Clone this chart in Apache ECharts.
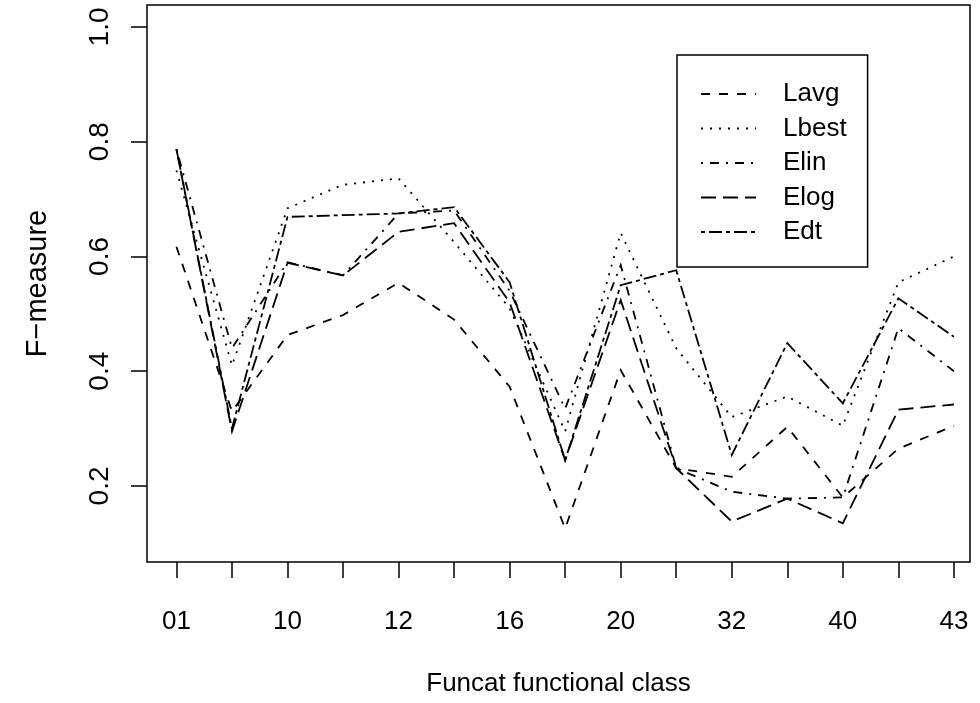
<!DOCTYPE html>
<html>
<head>
<meta charset="utf-8">
<script src="https://cdn.jsdelivr.net/npm/echarts@6/dist/echarts.min.js"></script>
<style>html,body{margin:0;padding:0;background:#fff;}#c{width:980px;height:703px;}</style>
</head>
<body>
<div id="c"></div>
<script>
// Funcat functional classes (x categories)
var categories = ['01','02','10','11','12','14','16','18','20','30','32','34','40','42','43'];
// F-measure per series
var lavg  = [0.617,0.330,0.463,0.498,0.554,0.490,0.373,0.126,0.402,0.231,0.216,0.303,0.180,0.265,0.305];
var lbest = [0.750,0.410,0.684,0.725,0.736,0.625,0.510,0.295,0.641,0.440,0.320,0.356,0.305,0.555,0.600];
var elin  = [0.787,0.440,0.590,0.567,0.675,0.680,0.540,0.335,0.585,0.231,0.190,0.178,0.180,0.475,0.400];
var elog  = [0.787,0.295,0.589,0.567,0.643,0.658,0.520,0.245,0.524,0.231,0.138,0.178,0.135,0.333,0.342];
var edt   = [0.787,0.300,0.669,0.672,0.675,0.686,0.555,0.245,0.550,0.576,0.254,0.449,0.344,0.527,0.460];
var seriesNames = ['Lavg','Lbest','Elin','Elog','Edt'];
var yTicks = [0.2,0.4,0.6,0.8,1.0];
var xLabelIdx = [0,2,4,6,8,10,12,14];

var FONT = '"Liberation Sans", Arial, Helvetica, sans-serif';
var dashes = [[9,9],[2,7],[2,7,9,7],[15,7],[4,4,13,4]];
var allData = [lavg,lbest,elin,elog,edt];
var xIdx = categories.map(function(_,i){return i;});

var series = allData.map(function(arr, k){
  return {
    name: seriesNames[k],
    type: 'line',
    data: arr.map(function(v,i){return [xIdx[i], v];}),
    symbol: 'none',
    silent: true,
    animation: false,
    lineStyle: {color:'#000', width:1.8, type: dashes[k], cap:'butt', join:'miter'}
  };
});

var chart = echarts.init(document.getElementById('c'), null, {renderer:'canvas'});
chart.setOption({
  backgroundColor: '#fff',
  animation: false,
  textStyle: {fontFamily: FONT, color:'#000'},
  grid: {left:147, right:10, top:5, bottom:141, show:true, borderColor:'#000', borderWidth:1.5, backgroundColor:'transparent', containLabel:false, outerBoundsMode:'none'},
  legend: {
    orient:'vertical', left:677, top:55,
    padding:[26,21,22,23],
    borderColor:'#000', borderWidth:1.5,
    itemWidth:55, itemHeight:14, itemGap:8.5,
    textStyle:{fontFamily:FONT, fontSize:26, color:'#000', padding:[0,0,0,22]},
    data: seriesNames.map(function(n){return {name:n, itemStyle:{opacity:0}};})
  },
  xAxis: {
    type:'value', min:-0.53, max:14.29,
    name:'Funcat functional class', nameLocation:'middle', nameGap:109,
    nameTextStyle:{fontFamily:FONT, fontSize:26, color:'#000'},
    axisLine:{show:false, onZero:false},
    splitLine:{show:false},
    axisTick:{show:true, inside:false, length:16, lineStyle:{color:'#000', width:1.5}, customValues:xIdx},
    axisLabel:{show:true, margin:47, fontSize:26, color:'#000', fontFamily:FONT,
      customValues:xLabelIdx, formatter:function(v){return categories[Math.round(v)];}}
  },
  yAxis: {
    type:'value', min:0.0675, max:1.0383,
    name:'F\u2212measure', nameLocation:'middle', nameGap:95,
    nameTextStyle:{fontFamily:FONT, fontSize:29, color:'#000'},
    axisLine:{show:false, onZero:false},
    splitLine:{show:false},
    axisTick:{show:true, inside:false, length:16, lineStyle:{color:'#000', width:1.5}, customValues:yTicks},
    axisLabel:{show:true, rotate:90, margin:33, fontSize:28, color:'#000', fontFamily:FONT,
      customValues:yTicks, formatter:function(v){return v.toFixed(1);}}
  },
  series: series
});
</script>
</body>
</html>
